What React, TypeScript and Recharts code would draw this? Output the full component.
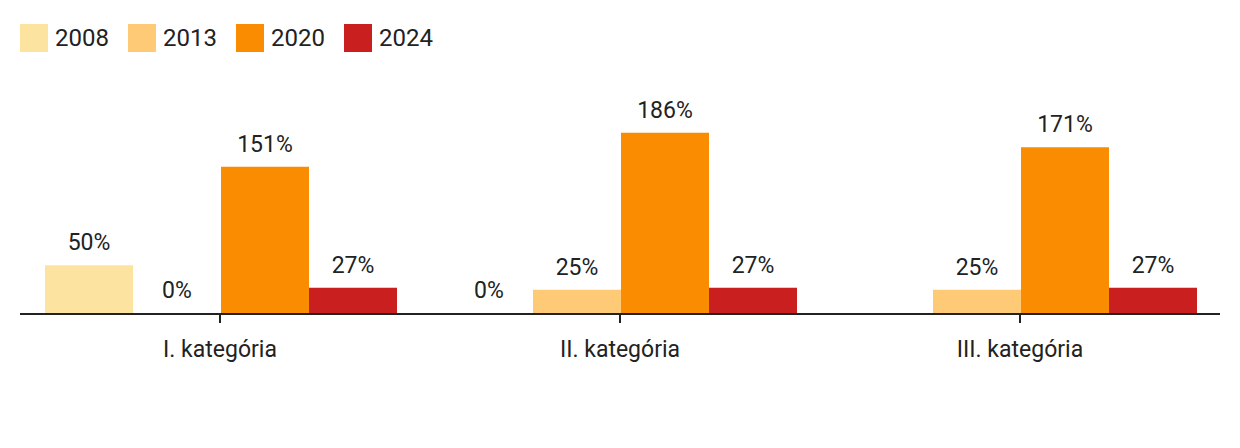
import React from "react";
import { BarChart, Bar, XAxis, YAxis, LabelList } from "recharts";

// Categories and series values (percent)
const CATEGORIES = ["I. kategória", "II. kategória", "III. kategória"];
const Y2008 = [50, 0, null];
const Y2013 = [0, 25, 25];
const Y2020 = [151, 186, 171];
const Y2024 = [27, 27, 27];

const SERIES = [
  { key: "y2008", name: "2008", color: "#FDE3A0", values: Y2008 },
  { key: "y2013", name: "2013", color: "#FECA76", values: Y2013 },
  { key: "y2020", name: "2020", color: "#F98C00", values: Y2020 },
  { key: "y2024", name: "2024", color: "#CA1F1F", values: Y2024 },
];

const TEXT = "#222222";
const FONT = "Roboto, 'Noto Sans', sans-serif";

const data = CATEGORIES.map((category, i) => {
  const row: Record<string, string | number | null> = { category };
  SERIES.forEach((s) => {
    row[s.key] = s.values[i];
  });
  return row;
});

const fmt = (v: unknown) => (v === null || v === undefined ? "" : `${v}%`);

function LegendRow() {
  return (
    <div
      style={{
        position: "absolute",
        top: 24,
        left: 20,
        display: "flex",
        alignItems: "center",
        fontFamily: FONT,
        fontSize: 24,
        color: TEXT,
        zIndex: 1,
      }}
    >
      {SERIES.map((s) => (
        <div key={s.key} style={{ display: "flex", alignItems: "center", width: 108 }}>
          <span style={{ width: 28, height: 28, background: s.color, display: "inline-block" }} />
          <span style={{ marginLeft: 7, lineHeight: "28px" }}>{s.name}</span>
        </div>
      ))}
    </div>
  );
}

export default function App() {
  return (
    <div style={{ position: "relative", width: 1240, height: 448, background: "#fff" }}>
      <style>{"body{margin:0}"}</style>
      <LegendRow />
      <BarChart
        width={1240}
        height={448}
        data={data}
        margin={{ top: 119, right: 20, left: 20, bottom: 94 }}
        barCategoryGap={25}
        barGap={0}
      >
        <YAxis hide domain={[0, 200]} />
        {SERIES.map((s) => (
          <Bar
            key={s.key}
            dataKey={s.key}
            name={s.name}
            fill={s.color}
            minPointSize={1}
            isAnimationActive={false}
          >
            <LabelList
              dataKey={s.key}
              position="top"
              offset={15}
              formatter={fmt}
              style={{ fill: TEXT, fontSize: 23, fontFamily: FONT }}
            />
          </Bar>
        ))}
        <XAxis
          dataKey="category"
          height={40}
          axisLine={{ stroke: TEXT, strokeWidth: 2 }}
          tickLine={{ stroke: TEXT, strokeWidth: 2 }}
          tickSize={9}
          tickMargin={18}
          tick={{ fill: TEXT, fontSize: 23, fontFamily: FONT }}
          interval={0}
        />
      </BarChart>
    </div>
  );
}
